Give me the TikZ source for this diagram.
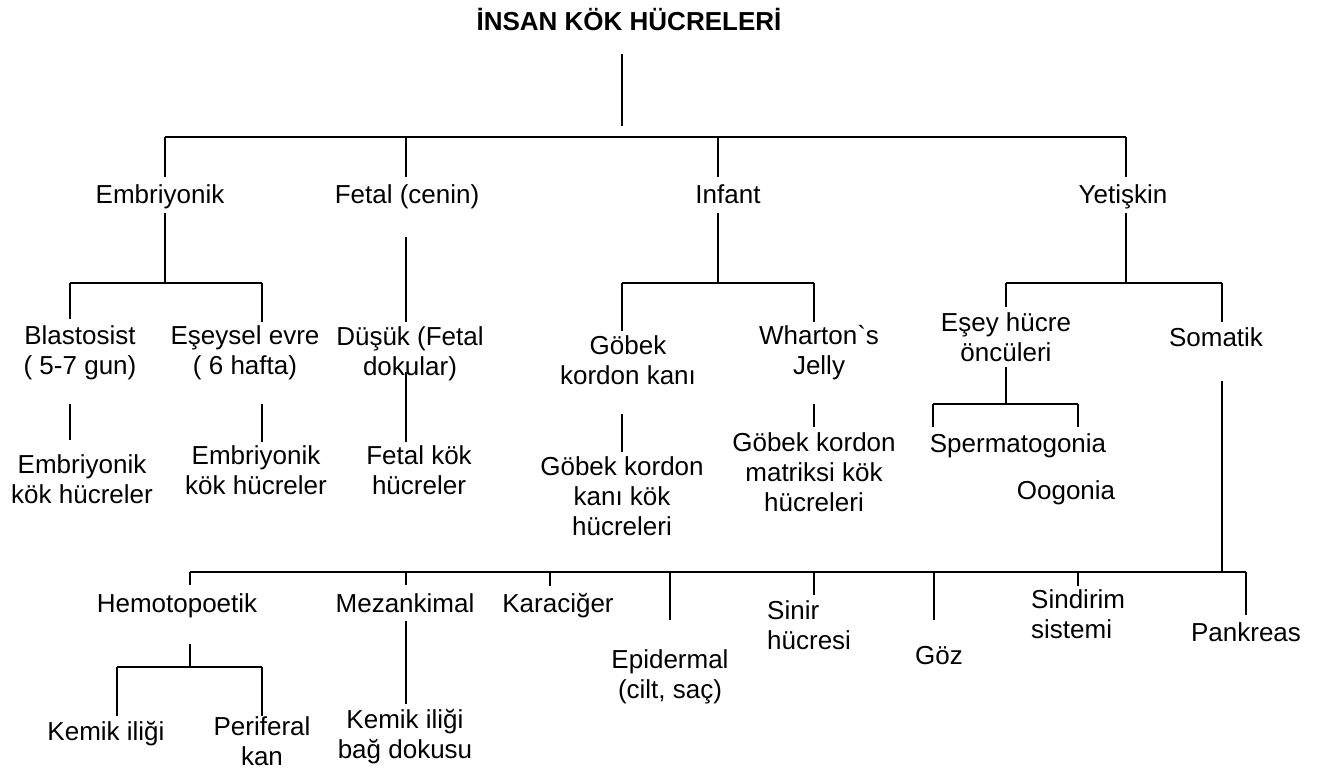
\documentclass[tikz,border=0pt]{standalone}
\usepackage{fontspec}
\setmainfont{Liberation Sans}[Ligatures=TeXOff]
\newcommand{\topstrut}{\rule{0pt}{24pt}}
\newcommand{\botstrut}{\rule[-6pt]{0pt}{6pt}}
\begin{document}
\begin{tikzpicture}[x=1pt,y=-1pt,
  lbl/.style={inner sep=0pt, align=center, font=\fontsize{26}{30}\selectfont,
    execute at begin node=\topstrut, execute at end node=\botstrut},
  lbll/.style={lbl, align=left, anchor=west},
  ttl/.style={lbl, font=\fontsize{26}{30}\selectfont\bfseries},
  conn/.style={draw=black, line width=2pt}]
\path[use as bounding box, fill=white] (0,0) rectangle (1322,775);

% ---------- nodes ----------
\node[ttl] (title) at (629,22) {İNSAN KÖK HÜCRELERİ};

\node[lbl] (emb) at (160,195) {Embriyonik};
\node[lbl] (fet) at (407,195) {Fetal (cenin)};
\node[lbl] (inf) at (728,195) {Infant};
\node[lbl] (yet) at (1123,195) {Yetişkin};

\node[lbl] (blast) at (80,353) {Blastosist\\( 5-7 gun)};
\node[lbl] (esey) at (245,353) {Eşeysel evre\\( 6 hafta)};
\node[lbl] (dusuk) at (410,354) {Düşük (Fetal\\dokular)};
\node[lbl] (gobek) at (628,363) {Göbek\\kordon kanı};
\node[lbl] (whart) at (819,353) {Wharton`s\\Jelly};
\node[lbl] (eseyh) at (1006,340) {Eşey hücre\\öncüleri};
\node[lbl] (soma) at (1216,338) {Somatik};

\node[lbl] (emb1) at (82,482) {Embriyonik\\kök hücreler};
\node[lbl] (emb2) at (256,473) {Embriyonik\\kök hücreler};
\node[lbl] (fkok) at (419,473) {Fetal kök\\hücreler};
\node[lbl] (gkk) at (622,499) {Göbek kordon\\kanı kök\\hücreleri};
\node[lbl] (gkm) at (814,475) {Göbek kordon\\matriksi kök\\hücreleri};
\node[lbl] (sperm) at (1018,443) {Spermatogonia};
\node[lbl] (oog) at (1066,490) {Oogonia};

\node[lbl] (hemo) at (177,603) {Hemotopoetik};
\node[lbl] (mez) at (405,603) {Mezankimal};
\node[lbl] (kara) at (558,603) {Karaciğer};
\node[lbl] (epi) at (670,677) {Epidermal\\(cilt, saç)};
\node[lbll] (sinir) at (767,628) {Sinir\\hücresi};
\node[lbl] (goz) at (939,655) {Göz};
\node[lbll] (sind) at (1031,617) {Sindirim\\sistemi};
\node[lbl] (pank) at (1246,632) {Pankreas};

\node[lbl] (kem1) at (106,731) {Kemik iliği};
\node[lbl] (perif) at (262,744) {Periferal\\kan};
\node[lbl] (kem2) at (405,737) {Kemik iliği\\bağ dokusu};

% ---------- connector points ----------
\coordinate (tS) at (622,54);   \coordinate (tE) at (622,126);
\coordinate (b1L) at (165,137); \coordinate (b1R) at (1126,137);
\coordinate (eS) at (165,213);  \coordinate (eJ) at (165,283);
\coordinate (eL) at (70,283);   \coordinate (eR) at (262,283);
\coordinate (fS) at (406,237);
\coordinate (iS) at (718,213);  \coordinate (iJ) at (718,283);
\coordinate (iL) at (622,283);  \coordinate (iR) at (814,283);
\coordinate (yS) at (1126,213); \coordinate (yJ) at (1126,283);
\coordinate (yL) at (1006,283); \coordinate (yR) at (1222,283);
\coordinate (gS) at (1006,367); \coordinate (gJ) at (1006,404);
\coordinate (gL) at (933,404);  \coordinate (gR) at (1078,404);
\coordinate (sS) at (1222,381); \coordinate (sJ) at (1222,572);
\coordinate (b5L) at (190,572); \coordinate (b5R) at (1246,572);
\coordinate (hS) at (190,644);  \coordinate (hJ) at (190,667);
\coordinate (hL) at (117,667);  \coordinate (hR) at (262,667);

% ---------- connectors ----------
\draw[conn] (tS) -- (tE);
\draw[conn] (b1L) -- (b1R);
\draw[conn] (b1L) -- (165,177);
\draw[conn] (406,137) -- (406,177);
\draw[conn] (718,137) -- (718,177);
\draw[conn] (b1R) -- (1126,177);

% Embriyonik
\draw[conn] (eS) -- (eJ);
\draw[conn] (eL) -- (eR);
\draw[conn] (eL) -- (70,319);
\draw[conn] (eR) -- (262,322);
\draw[conn] (70,404) -- (70,440);
\draw[conn] (262,404) -- (262,442);
% Fetal
\draw[conn] (fS) -- (406,322);
\draw[conn] (406,372) -- (406,442);
% Infant
\draw[conn] (iS) -- (iJ);
\draw[conn] (iL) -- (iR);
\draw[conn] (iL) -- (622,331);
\draw[conn] (iR) -- (814,322);
\draw[conn] (622,414) -- (622,452);
\draw[conn] (814,404) -- (814,427);
% Yetiskin
\draw[conn] (yS) -- (yJ);
\draw[conn] (yL) -- (yR);
\draw[conn] (yL) -- (1006,307);
\draw[conn] (yR) -- (1222,322);
\draw[conn] (gS) -- (gJ);
\draw[conn] (gL) -- (gR);
\draw[conn] (gL) -- (933,427);
\draw[conn] (gR) -- (1078,427);
% Somatik
\draw[conn] (sS) -- (sJ);
\draw[conn] (b5L) -- (b5R);
\draw[conn] (b5L) -- (190,585);
\draw[conn] (406,572) -- (406,585);
\draw[conn] (550,572) -- (550,586);
\draw[conn] (670,572) -- (670,620);
\draw[conn] (814,572) -- (814,595);
\draw[conn] (934,572) -- (934,620);
\draw[conn] (1078,572) -- (1078,586);
\draw[conn] (b5R) -- (1246,615);
% Hemotopoetik
\draw[conn] (hS) -- (hJ);
\draw[conn] (hL) -- (hR);
\draw[conn] (hL) -- (117,716);
\draw[conn] (hR) -- (262,716);
% Mezankimal
\draw[conn] (406,621) -- (406,704);
\end{tikzpicture}
\end{document}
